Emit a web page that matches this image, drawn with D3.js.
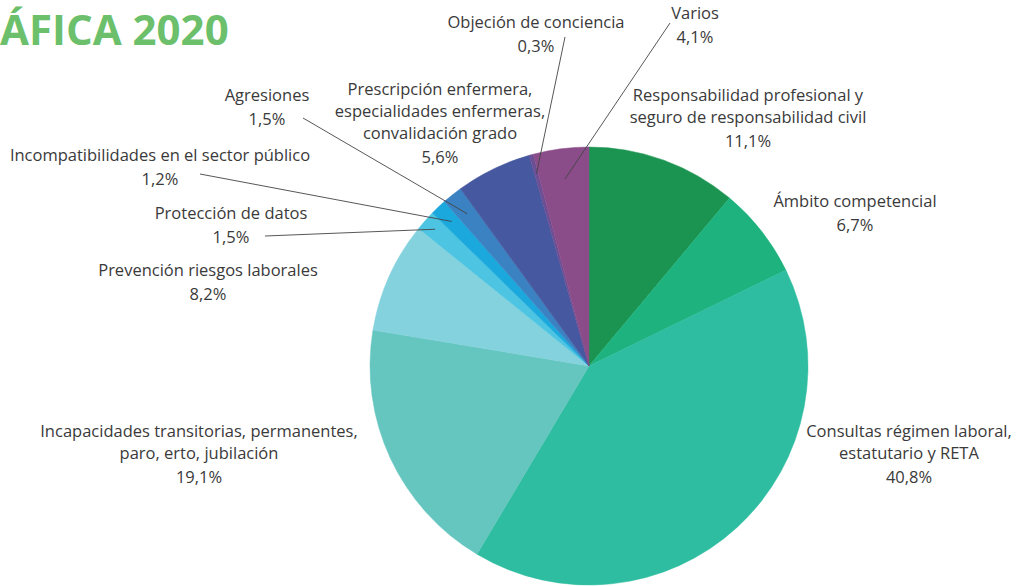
<!DOCTYPE html>
<html>
<head>
<meta charset="utf-8">
<script src="https://cdn.jsdelivr.net/npm/d3@7"></script>
<style>
  html, body { margin: 0; padding: 0; background: #fff; overflow: hidden; }
  svg { display: block; font-family: "Open Sans", sans-serif; }
</style>
</head>
<body>
<div id="chart"></div>
<script>
// data, clockwise from 12 o'clock
const categories = [
    ["Responsabilidad profesional y", "seguro de responsabilidad civil"],
    ["Ámbito competencial"],
    ["Consultas régimen laboral,", "estatutario y RETA"],
    ["Incapacidades transitorias, permanentes,", "paro, erto, jubilación"],
    ["Prevención riesgos laborales"],
    ["Protección de datos"],
    ["Incompatibilidades en el sector público"],
    ["Agresiones"],
    ["Prescripción enfermera,", "especialidades enfermeras,", "convalidación grado"],
    ["Objeción de conciencia"],
    ["Varios"]
];
const values = [11.1, 6.7, 40.8, 19.1, 8.2, 1.5, 1.2, 1.5, 5.6, 0.3, 4.1];
const colors = ["#1a9450", "#1eb37e", "#2ebda0", "#64c6bf", "#84d2de", "#4cc4e2",
                "#1ba8dc", "#3b82c2", "#46589f", "#6c4f94", "#8a4d8a"];

// label layout: centre x, y of first line, optional leader line start + depth in slice
const labelLayout = [
    { x: 748, y: 95 },
    { x: 855, y: 201 },
    { x: 909, y: 431 },
    { x: 199, y: 431 },
    { x: 208, y: 270 },
    { x: 231, y: 213, lead: [265, 236], k: 0.94 },
    { x: 160, y: 155, lead: [200, 174], k: 0.91 },
    { x: 267, y: 95, lead: [303, 118], k: 0.89 },
    { x: 440, y: 89 },
    { x: 536, y: 22, lead: [565, 37], k: 0.91 },
    { x: 695, y: 13, lead: [670, 23], k: 0.86 }
];

const width = 1019, height = 586;
const cx = 589, cy = 366, radius = 219;

const svg = d3.select("#chart").append("svg")
    .attr("width", width)
    .attr("height", height);

// page title (only its tail is visible in the source)
svg.append("text")
    .attr("x", 0)
    .attr("y", 45)
    .style("font-size", "42px")
    .style("font-weight", "bold")
    .style("fill", "#6cbf6b")
    .text("ÁFICA 2020");

const pie = d3.pie().sort(null).value(d => d);
const arcs = pie(values);
const arc = d3.arc().innerRadius(0).outerRadius(radius);

const g = svg.append("g").attr("transform", `translate(${cx},${cy})`);

g.selectAll("path")
    .data(arcs)
    .enter().append("path")
    .attr("d", arc)
    .attr("fill", (d, i) => colors[i])
    .attr("stroke", (d, i) => colors[i])
    .attr("stroke-width", 0.5);

// leader lines
arcs.forEach((d, i) => {
    const l = labelLayout[i];
    if (!l.lead) return;
    const a = (d.startAngle + d.endAngle) / 2;
    const r = radius * l.k;
    svg.append("line")
        .attr("x1", l.lead[0])
        .attr("y1", l.lead[1])
        .attr("x2", cx + r * Math.sin(a))
        .attr("y2", cy - r * Math.cos(a))
        .attr("stroke", "#444")
        .attr("stroke-width", 0.9);
});

// labels
const fmt = v => String(v.toFixed(1)).replace(".", ",") + "%";
categories.forEach((lines, i) => {
    const l = labelLayout[i];
    const t = svg.append("text")
        .attr("text-anchor", "middle")
        .style("font-size", "16.5px")
        .style("fill", "#3a3a3a");
    lines.forEach((s, j) => {
        t.append("tspan")
            .attr("x", l.x)
            .attr("y", l.y + j * 22 + 5.5)
            .text(s);
    });
    t.append("tspan")
        .attr("x", l.x)
        .attr("y", l.y + (lines.length - 1) * 22 + 24 + 5.5)
        .text(fmt(values[i]));
});
</script>
</body>
</html>
